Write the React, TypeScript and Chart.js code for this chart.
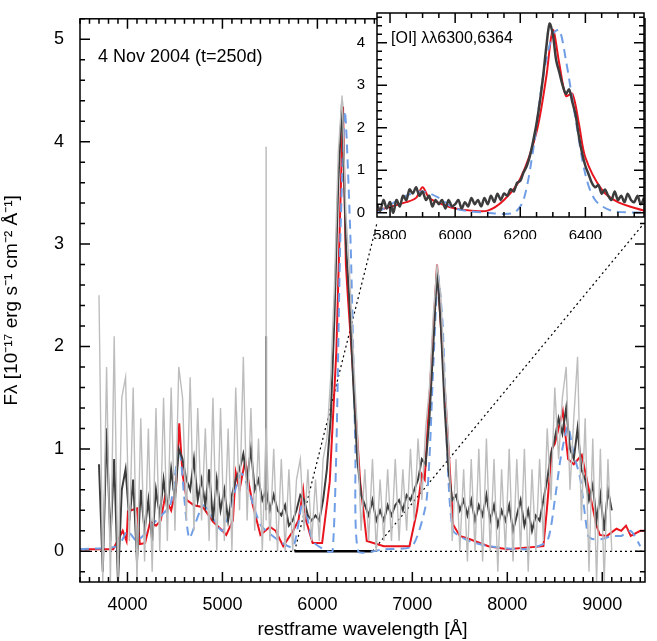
import { useEffect, useRef } from 'react';
import { Chart } from 'chart.js/auto';

// observed spectrum (binned), 40 A steps from 3700 to 9100
const obsStart = 3700;
const obsStep = 40;
const obsDark = [
  0.85, -0.2, 1.2, 0.1, 0.9, -0.3, 0.6, 0.8,
  0.3, 0.7, -0.1, 0.6, 0.2, 0.5, 0.1, 0.6, 0.35, 0.7,
  0.4, 0.8, 0.5, 1.0, 0.9, 0.7, 0.6, 0.9, 0.5, 0.7,
  0.45, 0.8, 0.3, 0.7, 0.4, 0.6, 0.3, 0.55, 0.7, 0.8,
  0.95, 0.7, 1.0, 0.6, 0.7, 0.5, 0.6, 0.4, 0.55, 0.4,
  0.35, 0.45, 0.25, 0.3, 0.4, 0.55, 0.5, 0.35, 0.3, 0.35,
  0.3, 0.5, 0.8, 1.3, 2.3, 3.6, 4.4, 3.0, 2.4, 1.6,
  0.9, 0.55, 0.45, 0.35, 0.5, 0.3, 0.4, 0.3, 0.45, 0.35,
  0.45, 0.5, 0.4, 0.55, 0.5, 0.6, 0.7, 0.9, 0.85, 1.3,
  2.0, 2.75, 2.2, 1.4, 0.8, 0.5, 0.55, 0.4, 0.5, 0.35,
  0.5, 0.3, 0.45, 0.35, 0.55, 0.3, 0.45, 0.25, 0.4, 0.3,
  0.45, 0.2, 0.35, 0.5, 0.25, 0.4, 0.2, 0.35, 0.3, 0.5,
  0.7, 0.95, 1.1, 1.3, 1.15, 1.4, 1.0, 0.9, 1.2, 0.8,
  0.7, 0.5, 0.65, 0.3, 0.55, 0.2, 0.6, 0.4,
];
const obsGrey = [
  2.5, -0.3, 1.8, -0.3, 2.1, -0.3, 1.5, 1.7,
  0.1, 1.6, -0.3, 1.3, -0.1, 1.2, -0.2, 1.4, 0.0, 1.5,
  0.1, 1.6, 0.2, 1.8, 1.5, 0.3, 1.7, 0.2, 1.4, 0.3,
  1.2, 0.1, 1.5, 0.0, 1.4, 0.1, 1.2, 0.0, 1.6, 0.4,
  1.9, 0.3, 1.4, 0.2, 1.1, 0.0, 1.2, 0.1, 1.0, 0.0,
  0.9, 0.0, 0.8, 0.0, 0.7, 0.9, 0.2, 0.8, 0.1, 0.7,
  0.1, 0.9, 1.1, 1.7, 2.6, 3.9, 4.45, 3.3, 2.7, 1.9,
  1.2, 0.2, 0.8, 0.1, 0.9, 0.0, 0.7, 0.1, 0.8, 0.1,
  0.9, 0.1, 0.8, 0.2, 1.0, 0.3, 1.1, 0.5, 1.2, 1.6,
  2.3, 2.8, 2.5, 1.7, 1.1, 0.1, 0.9, 0.0, 0.8, -0.1,
  0.9, 0.0, 1.0, -0.1, 1.1, 0.0, 0.9, -0.2, 0.8, 0.0,
  1.0, -0.1, 0.9, 0.0, 1.0, -0.2, 0.8, 0.0, 0.9, 0.1,
  1.2, 0.5, 1.6, 0.9, 1.5, 1.8, 0.6, 1.3, 1.9, 0.3,
  1.3, -0.2, 1.1, -0.3, 1.0, -0.3, 0.9, 0.0,
];

// red model
const redWave = [
  3500, 3850, 3950, 3990, 4005, 4100, 4130, 4185, 4240, 4300, 4350, 4395, 4460, 4510, 4545, 4580, 4625, 4700,
  4795, 4900, 5000, 5040, 5110, 5140, 5180, 5240, 5280, 5320, 5400, 5500, 5560, 5640, 5745, 5800, 5850, 5880,
  5950, 6050, 6130, 6200, 6270, 6300, 6320, 6360, 6450, 6520, 6700, 6970, 7050, 7100, 7130, 7180, 7260, 7300,
  7360, 7430, 7500, 7600, 7800, 8000, 8380, 8416, 8470, 8500, 8584, 8640, 8700, 8784, 8860, 8940, 8974, 9050,
  9150, 9200, 9250, 9300, 9400, 9450,
];
const redFlux = [
  0.02, 0.02, 0.2, 0.1, 0.39, 0.42, 0.07, 0.08, 0.29, 0.25, 0.3, 0.53, 0.4, 0.6, 1.25, 0.75, 0.5, 0.45,
  0.43, 0.29, 0.2, 0.16, 0.3, 0.77, 0.6, 0.89, 0.65, 0.45, 0.16, 0.24, 0.2, 0.05, 0.2, 0.3, 0.6, 0.3,
  0.08, 0.08, 0.68, 1.96, 4.34, 2.8, 2.5, 1.96, 0.68, 0.1, 0.05, 0.05, 0.4, 0.75, 0.7, 1.5, 2.8, 2.2,
  1.32, 0.26, 0.15, 0.12, 0.05, 0.02, 0.05, 0.4, 1.0, 1.05, 1.37, 0.9, 0.85, 0.94, 0.6, 0.25, 0.16, 0.15,
  0.22, 0.2, 0.25, 0.15, 0.2, 0.2,
];
// blue dashed model
const blueWave = [
  3500, 3900, 4000, 4100, 4300, 4450, 4545, 4650, 4800, 5000, 5200, 5400, 5600, 5745, 5850, 5950, 6100, 6160,
  6200, 6240, 6290, 6350, 6400, 6430, 6700, 7000, 7150, 7220, 7270, 7320, 7370, 7430, 7600, 7800, 8200, 8420,
  8500, 8560, 8637, 8700, 8770, 8850, 8900, 9000, 9100, 9200, 9300, 9400,
];
const blueFlux = [
  0.02, 0.05, 0.2, 0.1, 0.3, 0.45, 1.0, 0.13, 0.45, 0.2, 0.76, 0.26, 0.1, 0.04, 0.5, 0.1, 0.0, 0.0,
  1.0, 3.0, 4.3, 3.0, 1.0, 0.0, 0.02, 0.05, 0.5, 1.8, 2.7, 2.2, 0.9, 0.2, 0.1, 0.05, 0.02, 0.1,
  0.5, 0.9, 1.22, 0.95, 0.7, 0.15, 0.12, 0.12, 0.15, 0.15, 0.2, 0.05,
];

// inset: [OI] region, 10 A steps from 5760
const insetStart = 5760;
const insetStep = 10;
const insetObs = [
  0.2, 0.05, 0.3, 0.1, 0.25, 0.0, 0.3, 0.15, 0.4, 0.3, 0.55, 0.45, 0.6, 0.4, 0.5, 0.3, 0.4, 0.15, 0.3, 0.2,
  0.3, 0.1, 0.3, 0.15, 0.2, 0.3, 0.1, 0.25, 0.15, 0.35, 0.2, 0.3, 0.15, 0.35, 0.2, 0.4, 0.25, 0.45, 0.3, 0.45,
  0.4, 0.55, 0.5, 0.7, 0.75, 0.95, 1.1, 1.35, 1.7, 2.1, 2.6, 3.2, 3.9, 4.45, 4.2, 3.6, 3.3, 3.0, 2.8, 2.9,
  2.6, 2.3, 1.8, 1.4, 1.1, 0.9, 0.7, 0.6, 0.65, 0.45, 0.55, 0.4, 0.3, 0.5, 0.3, 0.4, 0.25, 0.45, 0.3, 0.25,
  0.4, 0.2, 0.35,
];
const insetModelWave = [5760, 5850, 5880, 5900, 5920, 5960, 6000, 6050, 6100, 6150, 6200, 6250, 6280, 6300, 6320, 6340, 6360, 6380, 6400, 6450, 6500, 6580];
const insetRed = [0.05, 0.25, 0.35, 0.6, 0.35, 0.2, 0.1, 0.05, 0.05, 0.3, 0.8, 1.9, 3.2, 4.3, 3.5, 2.75, 2.8, 2.1, 1.3, 0.55, 0.25, 0.05];
const insetBlueWave = [5760, 5850, 5900, 5950, 6000, 6100, 6180, 6210, 6240, 6270, 6300, 6320, 6340, 6370, 6400, 6430, 6480, 6580];
const insetBlue = [0.0, 0.4, 0.5, 0.35, 0.1, 0.0, 0.0, 0.3, 1.5, 3.2, 4.2, 4.3, 3.6, 2.2, 0.9, 0.3, 0.05, 0.0];

const FONT = '"Liberation Sans", Arial, sans-serif';
const pts = (xs: number[], ys: number[]) => ys.map((y, i) => ({ x: xs[i], y }));
const grid = (start: number, step: number, ys: number[]) => ys.map((y, i) => ({ x: start + i * step, y }));
const plain = (v: any) => String(v);

// draws frame + inward ticks on all four sides
function frameTicks(xMajor: number, xMinor: number, yMajor: number, yMinor: number, white = false) {
  return {
    id: 'frameTicks',
    beforeDraw(chart: any) {
      if (!white) return;
      const { ctx, chartArea: a } = chart;
      ctx.save();
      ctx.fillStyle = '#fff';
      ctx.fillRect(a.left, a.top, a.right - a.left, a.bottom - a.top);
      ctx.restore();
    },
    afterDraw(chart: any) {
      const { ctx, chartArea: a, scales } = chart;
      const xs = scales.x, ys = scales.y;
      ctx.save();
      ctx.strokeStyle = '#000';
      ctx.lineWidth = 1.5;
      ctx.strokeRect(a.left, a.top, a.right - a.left, a.bottom - a.top);
      ctx.beginPath();
      for (let v = Math.ceil(xs.min / xMinor) * xMinor; v <= xs.max; v += xMinor) {
        const p = xs.getPixelForValue(v);
        const L = Math.abs(v / xMajor - Math.round(v / xMajor)) < 1e-6 ? 10 : 5;
        ctx.moveTo(p, a.bottom); ctx.lineTo(p, a.bottom - L);
        ctx.moveTo(p, a.top); ctx.lineTo(p, a.top + L);
      }
      for (let v = Math.ceil(ys.min / yMinor) * yMinor; v <= ys.max + 1e-9; v += yMinor) {
        const p = ys.getPixelForValue(v);
        const L = Math.abs(v / yMajor - Math.round(v / yMajor)) < 1e-6 ? 10 : 5;
        ctx.moveTo(a.left, p); ctx.lineTo(a.left + L, p);
        ctx.moveTo(a.right, p); ctx.lineTo(a.right - L, p);
      }
      ctx.stroke();
      ctx.restore();
    },
  };
}

function MainChart() {
  const ref = useRef<HTMLCanvasElement>(null);
  useEffect(() => {
    if (!ref.current) return;
    const textPlugin = {
      id: 'label',
      afterDraw(chart: any) {
        const { ctx, chartArea: a } = chart;
        ctx.save();
        ctx.fillStyle = '#000';
        ctx.font = `18px ${FONT}`;
        ctx.textBaseline = 'middle';
        ctx.fillText('4 Nov 2004 (t=250d)', a.left + 18, a.top + 38);
        ctx.restore();
      },
    };
    const chart = new Chart(ref.current, {
      type: 'line',
      data: {
        datasets: [
          { data: grid(obsStart, obsStep, obsGrey), borderColor: '#bdbdbd', borderWidth: 1.4 },
          { data: [{ x: 5460, y: 0.3 }, { x: 5460, y: 3.95 }], borderColor: '#bdbdbd', borderWidth: 1.5 },
          { data: grid(obsStart, obsStep, obsDark), borderColor: '#3c3c3c', borderWidth: 2 },
          { data: [{ x: 5460, y: 0.4 }, { x: 5460, y: 2.1 }], borderColor: '#3c3c3c', borderWidth: 2 },
          { data: pts(blueWave, blueFlux), borderColor: '#6f9ee6', borderWidth: 2, borderDash: [9, 6], tension: 0.2 },
          { data: pts(redWave, redFlux), borderColor: '#e8141e', borderWidth: 2 },
          { data: [{ x: 3500, y: 0 }, { x: 9450, y: 0 }], borderColor: '#000', borderWidth: 1.2, borderDash: [2, 3] },
          { data: [{ x: 5760, y: 0 }, { x: 6580, y: 0 }], borderColor: '#000', borderWidth: 2.5 },
          { data: [{ x: 5760, y: 0 }, { x: 6626, y: 3.2 }], borderColor: '#000', borderWidth: 1.2, borderDash: [2, 3] },
          { data: [{ x: 6580, y: 0 }, { x: 9437, y: 3.2 }], borderColor: '#000', borderWidth: 1.2, borderDash: [2, 3] },
        ],
      },
      options: {
        animation: false,
        responsive: false,
        parsing: false,
        elements: { point: { radius: 0 }, line: { tension: 0 } },
        layout: { padding: { top: 8, right: 12, left: 0, bottom: 0 } },
        plugins: { legend: { display: false }, tooltip: { enabled: false } },
        scales: {
          x: {
            type: 'linear', min: 3500, max: 9450,
            grid: { display: false }, border: { display: false },
            afterBuildTicks: (s: any) => { s.ticks = [4000, 5000, 6000, 7000, 8000, 9000].map((v) => ({ value: v })); },
            ticks: { color: '#000', font: { family: FONT, size: 18 }, maxRotation: 0, padding: 4, callback: plain },
            title: { display: true, text: 'restframe wavelength [Å]', color: '#000', font: { family: FONT, size: 19 }, padding: 0 },
            afterFit: (s: any) => { s.height = 59; },
          },
          y: {
            type: 'linear', min: -0.3, max: 5.2,
            grid: { display: false }, border: { display: false },
            afterBuildTicks: (s: any) => { s.ticks = [0, 1, 2, 3, 4, 5].map((v) => ({ value: v })); },
            ticks: { color: '#000', font: { family: FONT, size: 18 }, padding: 8, callback: plain },
            title: { display: true, text: 'Fλ [10⁻¹⁷ erg s⁻¹ cm⁻² Å⁻¹]', color: '#000', font: { family: FONT, size: 19 }, padding: 0 },
            afterFit: (s: any) => { s.width = 80; },
          },
        },
      },
      plugins: [frameTicks(1000, 100, 1, 0.2), textPlugin],
    } as any);
    return () => chart.destroy();
  }, []);
  return <canvas ref={ref} width={657} height={641} style={{ position: 'absolute', left: 0, top: 0 }} />;
}

function InsetChart() {
  const ref = useRef<HTMLCanvasElement>(null);
  useEffect(() => {
    if (!ref.current) return;
    const textPlugin = {
      id: 'label',
      afterDraw(chart: any) {
        const { ctx, chartArea: a } = chart;
        ctx.save();
        ctx.fillStyle = '#000';
        ctx.font = `16px ${FONT}`;
        ctx.textBaseline = 'middle';
        ctx.fillText('[OI] λλ6300,6364', a.left + 14, a.top + 26);
        ctx.restore();
      },
    };
    const chart = new Chart(ref.current, {
      type: 'line',
      data: {
        datasets: [
          { data: grid(insetStart, insetStep, insetObs), borderColor: '#3c3c3c', borderWidth: 2.5 },
          { data: pts(insetBlueWave, insetBlue), borderColor: '#6f9ee6', borderWidth: 2, borderDash: [9, 6] },
          { data: pts(insetModelWave, insetRed), borderColor: '#e8141e', borderWidth: 2 },
        ],
      },
      options: {
        animation: false,
        responsive: false,
        parsing: false,
        elements: { point: { radius: 0 }, line: { tension: 0.3 } },
        layout: { padding: { top: 10, right: 13, left: 0, bottom: 0 } },
        plugins: { legend: { display: false }, tooltip: { enabled: false } },
        scales: {
          x: {
            type: 'linear', min: 5760, max: 6580,
            grid: { display: false }, border: { display: false },
            afterBuildTicks: (s: any) => { s.ticks = [5800, 6000, 6200, 6400].map((v) => ({ value: v })); },
            ticks: { color: '#000', font: { family: FONT, size: 15 }, maxRotation: 0, padding: 2, callback: plain },
            afterFit: (s: any) => { s.height = 22; },
          },
          y: {
            type: 'linear', min: -0.1, max: 4.7,
            grid: { display: false }, border: { display: false },
            afterBuildTicks: (s: any) => { s.ticks = [0, 1, 2, 3, 4].map((v) => ({ value: v })); },
            ticks: { color: '#000', font: { family: FONT, size: 15 }, padding: 4, callback: plain },
            afterFit: (s: any) => { s.width = 37; },
          },
        },
      },
      plugins: [frameTicks(200, 50, 1, 0.2, true), textPlugin],
    } as any);
    return () => chart.destroy();
  }, []);
  return <canvas ref={ref} width={317} height={239} style={{ position: 'absolute', left: 340, top: 0 }} />;
}

export default function App() {
  return (
    <div style={{ position: 'fixed', left: 0, top: 0, width: 657, height: 641, background: '#fff' }}>
      <MainChart />
      <InsetChart />
    </div>
  );
}
